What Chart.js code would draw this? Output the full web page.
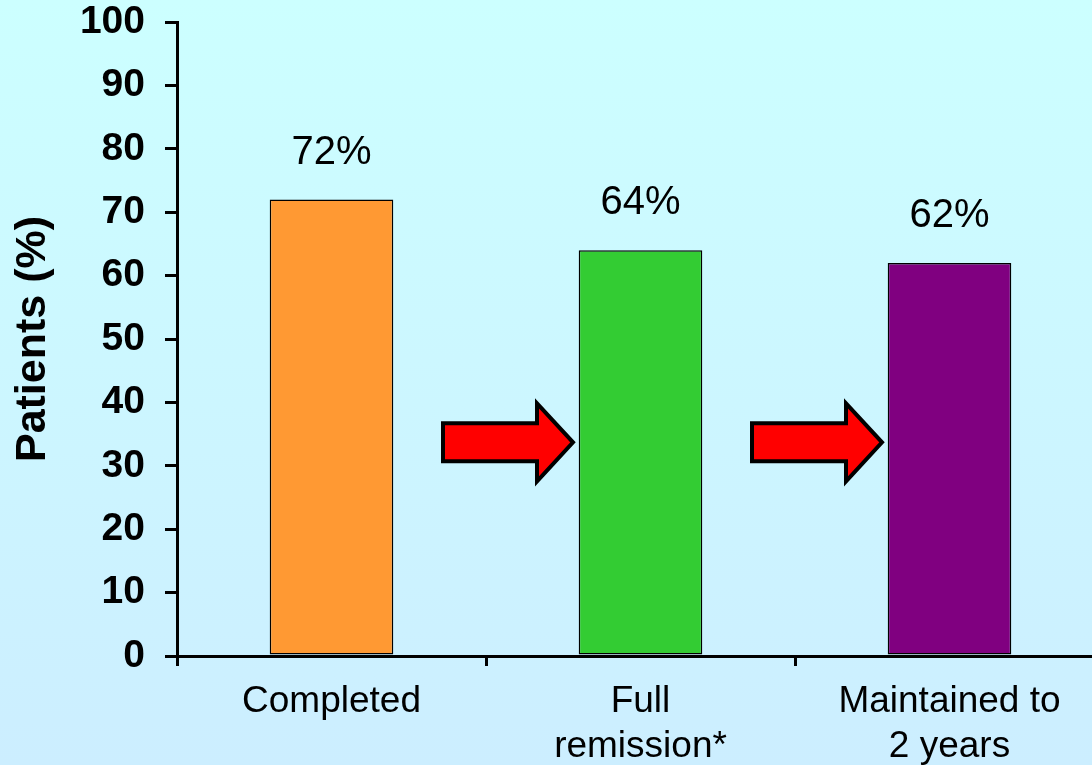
<!DOCTYPE html>
<html>
<head>
<meta charset="utf-8">
<script src="https://cdn.jsdelivr.net/npm/chart.js@4/dist/chart.umd.min.js"></script>
<style>
  html, body { margin: 0; padding: 0; overflow: hidden; }
  body { width: 1092px; height: 765px; background: linear-gradient(#ccffff, #cceeff); }
  canvas { display: block; }
</style>
</head>
<body>
<canvas id="chart" width="1110" height="765"></canvas>
<script>
const categories = [["Completed"], ["Full", "remission*"], ["Maintained to", "2 years"]];
const values = [72, 64, 62];
const valueLabels = ["72%", "64%", "62%"];
const barColors = ["#ff9933", "#33cc33", "#800080"];
const arrowLevel = 33.7;

// value labels above bars
const valueLabelPlugin = {
  id: "valueLabels",
  afterDatasetsDraw(chart) {
    const ctx = chart.ctx;
    const meta = chart.getDatasetMeta(0);
    ctx.save();
    ctx.font = "40px 'Liberation Sans', Arial, sans-serif";
    ctx.fillStyle = "#000";
    ctx.textAlign = "center";
    ctx.textBaseline = "middle";
    meta.data.forEach((bar, i) => {
      ctx.fillText(valueLabels[i], bar.x, bar.y - 47);
    });
    ctx.restore();
  }
};

// red arrows between the bars
const arrowPlugin = {
  id: "arrows",
  afterDatasetsDraw(chart) {
    const ctx = chart.ctx;
    const x = chart.scales.x;
    const y = chart.scales.y;
    const step = x.getPixelForValue(1) - x.getPixelForValue(0);
    const cy = y.getPixelForValue(arrowLevel);
    ctx.save();
    for (let i = 0; i < values.length - 1; i++) {
      const b = x.getPixelForValue(i) + step / 2;
      ctx.beginPath();
      ctx.moveTo(b - 43, cy - 19);
      ctx.lineTo(b + 51, cy - 19);
      ctx.lineTo(b + 51, cy - 39);
      ctx.lineTo(b + 87, cy);
      ctx.lineTo(b + 51, cy + 39);
      ctx.lineTo(b + 51, cy + 19);
      ctx.lineTo(b - 43, cy + 19);
      ctx.closePath();
      ctx.fillStyle = "#ff0000";
      ctx.fill();
      ctx.lineWidth = 4;
      ctx.lineJoin = "miter";
      ctx.strokeStyle = "#000";
      ctx.stroke();
    }
    ctx.restore();
  }
};

new Chart(document.getElementById("chart"), {
  type: "bar",
  data: {
    labels: categories,
    datasets: [{
      data: values,
      backgroundColor: barColors,
      borderColor: "#000",
      borderWidth: 1.5,
      borderSkipped: false,
      barPercentage: 0.4,
      categoryPercentage: 1
    }]
  },
  options: {
    responsive: false,
    animation: false,
    layout: { padding: { top: 22, right: 6, left: 0, bottom: 0 } },
    plugins: {
      legend: { display: false },
      tooltip: { enabled: false }
    },
    scales: {
      x: {
        afterFit(axis) {
          axis.height = 109;
          axis.paddingLeft = 0;
          axis.paddingRight = 0;
        },
        border: { color: "#000", width: 3 },
        grid: { drawOnChartArea: false, color: "#000", lineWidth: 3, tickLength: 10 },
        ticks: {
          color: "#000",
          padding: 14,
          maxRotation: 0,
          autoSkip: false,
          font: { family: "'Liberation Sans', Arial, sans-serif", size: 37, lineHeight: 1.2 }
        }
      },
      y: {
        min: 0,
        max: 100,
        afterFit(axis) {
          axis.width = 177;
          axis.paddingTop = 0;
          axis.paddingBottom = 0;
        },
        border: { color: "#000", width: 3 },
        grid: { drawOnChartArea: false, color: "#000", lineWidth: 3, tickLength: 12 },
        ticks: {
          stepSize: 10,
          color: "#000",
          padding: 20,
          font: { family: "'Liberation Sans', Arial, sans-serif", size: 39, weight: "bold", lineHeight: 1 }
        },
        title: {
          display: true,
          text: "Patients (%)",
          color: "#000",
          padding: { top: 7, bottom: 0 },
          font: { family: "'Liberation Sans', Arial, sans-serif", size: 43, weight: "bold", lineHeight: 1.2 }
        }
      }
    }
  },
  plugins: [valueLabelPlugin, arrowPlugin]
});
</script>
</body>
</html>
